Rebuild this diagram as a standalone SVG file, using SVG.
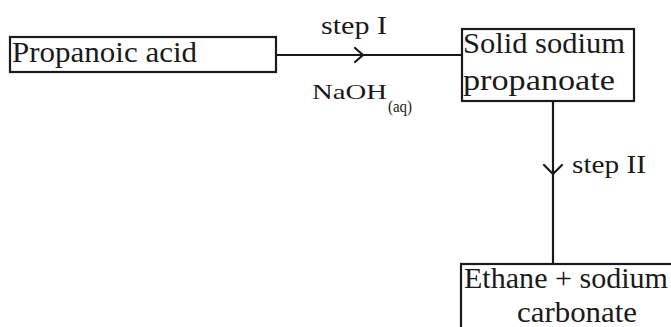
<svg xmlns="http://www.w3.org/2000/svg" width="671" height="327" viewBox="0 0 671 327">
<style>
.box{fill:none;stroke:#1a1a1a;stroke-width:2.2}
.ln{fill:none;stroke:#1a1a1a;stroke-width:2.2}
.head{fill:none;stroke:#1a1a1a;stroke-width:2.2;stroke-linecap:round;stroke-linejoin:miter}
.t{font-family:"Times New Roman","Liberation Serif",Tinos,serif;fill:#1a1a1a}
.big{font-size:30px}
.lab{font-size:25px}
</style>
<rect width="671" height="327" fill="#fff"/>
<g id="connectors">
<line class="ln" x1="276" y1="55" x2="462" y2="55"/>
<polyline class="head" points="355,48 363,55 355,62"/>
<line class="ln" x1="553" y1="101" x2="553" y2="264"/>
<polyline class="head" points="544,165 553,174 562,165"/>
<text class="t lab" x="321" y="34" textLength="66" lengthAdjust="spacingAndGlyphs">step I</text>
<text class="t" x="312" y="99" font-size="21" textLength="75" lengthAdjust="spacingAndGlyphs">NaOH</text>
<text class="t" x="388" y="112" font-size="16" textLength="24" lengthAdjust="spacingAndGlyphs">(aq)</text>
<text class="t lab" x="572" y="173" textLength="74" lengthAdjust="spacingAndGlyphs">step II</text>
</g>
<g id="propanoic-acid">
<rect class="box" x="10" y="37" width="266" height="35"/>
<text class="t big" x="12" y="62" textLength="185" lengthAdjust="spacingAndGlyphs">Propanoic acid</text>
</g>
<g id="sodium-propanoate">
<rect class="box" x="462" y="29" width="172" height="72"/>
<text class="t big" x="463" y="53" textLength="162" lengthAdjust="spacingAndGlyphs">Solid sodium</text>
<text class="t big" x="463" y="90" textLength="152" lengthAdjust="spacingAndGlyphs">propanoate</text>
</g>
<g id="ethane-carbonate">
<rect class="box" x="461" y="264" width="230" height="80"/>
<text class="t big" x="464" y="288" textLength="204" lengthAdjust="spacingAndGlyphs">Ethane + sodium</text>
<text class="t big" x="517" y="322" textLength="120" lengthAdjust="spacingAndGlyphs">carbonate</text>
</g>
</svg>
